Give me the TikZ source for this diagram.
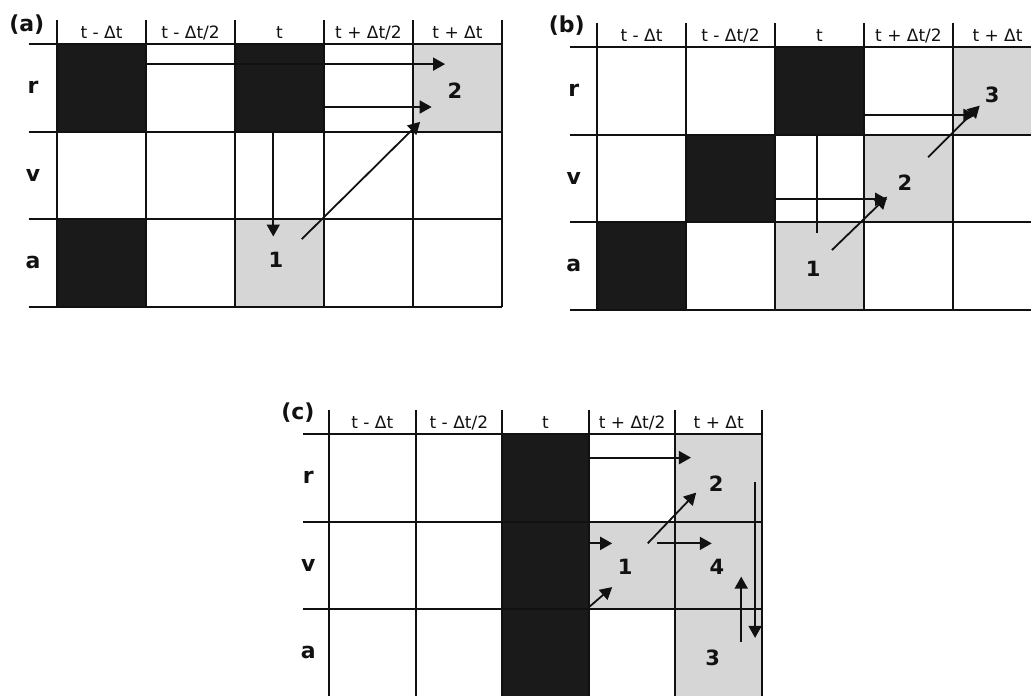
\documentclass[tikz,border=0pt]{standalone}
\usepackage{fontspec}
\setmainfont{DejaVu Sans}
\usetikzlibrary{arrows.meta}
\definecolor{leapInk}{HTML}{111111}
\definecolor{leapDark}{HTML}{1A1A1A}
\definecolor{leapLight}{HTML}{D6D6D6}
\tikzset{
  every picture/.style={text=leapInk},
  leap grid/.style={draw=leapInk, line width=2pt},
  leap dark/.style={fill=leapDark},
  leap light/.style={fill=leapLight},
  leap arrow/.style={-{Triangle[length=12pt,width=13pt]},
    draw=leapInk, line width=1.8pt},
  leap line/.style={draw=leapInk, line width=1.8pt},
  leap head/.style={font=\fontsize{17}{19}\selectfont},
  leap row/.style={font=\bfseries\fontsize{22}{25}\selectfont},
  leap num/.style={font=\bfseries\fontsize{21}{24}\selectfont},
  leap tag/.style={font=\bfseries\fontsize{22}{26}\selectfont}
}

\begin{document}
\begin{tikzpicture}[x=1pt,y=-1pt]
  \useasboundingbox (0,0) rectangle (1031,696);
  % (a)
  \begin{scope}[shift={(57,44)},x=89pt,y=-87.5pt]
    \fill[leap dark] (0,0) rectangle (1,1) (2,0) rectangle (3,1) (0,2) rectangle (1,3);
    \fill[leap light] (2,2) rectangle (3,3) (4,0) rectangle (5,1);
    \foreach \r in {0,...,3} \draw[leap grid] (-0.32,\r) -- (5,\r);
    \foreach \c in {0,...,5} \draw[leap grid] (\c,-0.27) -- (\c,3);
    \foreach \t [count=\c] in {{t - Δt},{t - Δt/2},{t},{t + Δt/2},{t + Δt}}
      \node[leap head] (ah\c) at (\c-0.5,-0.13) {\t};
    \node[leap tag] (atag) at (-0.34,-0.22) {(a)};
    \node[leap row] (ar) at (-0.27,0.5) {r};
    \node[leap row] (av) at (-0.27,1.5) {v};
    \node[leap row] (aa) at (-0.27,2.5) {a};
    \draw[leap arrow] (1,0.23) -- (4.36,0.23);
    \draw[leap arrow] (3,0.72) -- (4.21,0.72);
    \draw[leap arrow] (2.43,1) -- (2.43,2.2);
    \draw[leap arrow] (2.75,2.23) -- (4.08,0.89);
    \node[leap num] (a1) at (2.46,2.47) {1};
    \node[leap num] (a2) at (4.47,0.53) {2};
  \end{scope}
  % (b)
  \begin{scope}[shift={(597,47)},x=89pt,y=-87.5pt]
    \fill[leap dark] (2,0) rectangle (3,1) (1,1) rectangle (2,2) (0,2) rectangle (1,3);
    \fill[leap light] (2,2) rectangle (3,3) (3,1) rectangle (4,2) (4,0) rectangle (5,1);
    \foreach \r in {0,...,3} \draw[leap grid] (-0.3,\r) -- (5,\r);
    \foreach \c in {0,...,5} \draw[leap grid] (\c,-0.27) -- (\c,3);
    \foreach \t [count=\c] in {{t - Δt},{t - Δt/2},{t},{t + Δt/2},{t + Δt}}
      \node[leap head] (bh\c) at (\c-0.5,-0.13) {\t};
    \node[leap tag] (btag) at (-0.34,-0.25) {(b)};
    \node[leap row] (br) at (-0.26,0.5) {r};
    \node[leap row] (bv) at (-0.26,1.5) {v};
    \node[leap row] (ba) at (-0.26,2.5) {a};
    \draw[leap line] (2.47,1) -- (2.47,2.13);
    \draw[leap arrow] (2,1.74) -- (3.26,1.74);
    \draw[leap arrow] (2.64,2.32) -- (3.26,1.71);
    \draw[leap arrow] (3,0.78) -- (4.25,0.78);
    \draw[leap arrow] (3.72,1.26) -- (4.3,0.67);
    \node[leap num] (b1) at (2.43,2.54) {1};
    \node[leap num] (b2) at (3.46,1.55) {2};
    \node[leap num] (b3) at (4.44,0.55) {3};
  \end{scope}
  % (c)
  \begin{scope}[shift={(329,434)},x=86.6pt,y=-87.5pt]
    \fill[leap dark] (2,0) rectangle (3,3.05);
    \fill[leap light] (3,1) rectangle (4,2) (4,0) rectangle (5,3.05);
    \foreach \r in {0,1,2} \draw[leap grid] (-0.3,\r) -- (5,\r);
    \foreach \c in {0,...,5} \draw[leap grid] (\c,-0.27) -- (\c,3.05);
    \foreach \t [count=\c] in {{t - Δt},{t - Δt/2},{t},{t + Δt/2},{t + Δt}}
      \node[leap head] (ch\c) at (\c-0.5,-0.13) {\t};
    \node[leap tag] (ctag) at (-0.36,-0.25) {(c)};
    \node[leap row] (cr) at (-0.24,0.5) {r};
    \node[leap row] (cv) at (-0.24,1.5) {v};
    \node[leap row] (ca) at (-0.24,2.5) {a};
    \draw[leap arrow] (3,0.27) -- (4.18,0.27);
    \draw[leap arrow] (3.68,1.25) -- (4.24,0.67);
    \draw[leap arrow] (3,1.25) -- (3.27,1.25);
    \draw[leap arrow] (3.79,1.25) -- (4.42,1.25);
    \draw[leap arrow] (3,1.98) -- (3.27,1.75);
    \draw[leap arrow] (4.92,0.55) -- (4.92,2.33);
    \draw[leap arrow] (4.76,2.38) -- (4.76,1.63);
    \node[leap num] (c1) at (3.42,1.52) {1};
    \node[leap num] (c2) at (4.47,0.57) {2};
    \node[leap num] (c4) at (4.48,1.52) {4};
    \node[leap num] (c3) at (4.43,2.56) {3};
  \end{scope}
\end{tikzpicture}
\end{document}
